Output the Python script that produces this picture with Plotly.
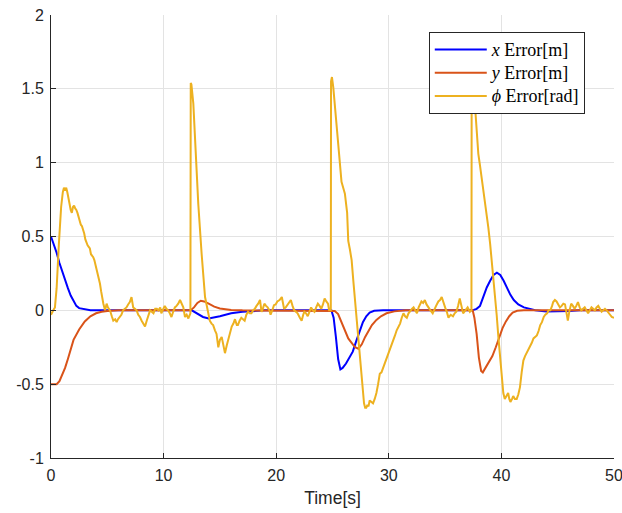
import plotly.graph_objects as go

# ---------------- data ----------------
x_t = [0, 0.25, 0.5, 0.75, 1.0, 1.25, 1.5, 1.75, 2.0, 2.25, 2.5, 3.0, 3.5, 12.5,
       13.0, 13.5, 14.0, 14.5, 15.0, 15.5, 16.0, 17.0, 18.0, 19.0, 24.9,
       25.1, 25.3, 25.5, 25.7, 25.9, 26.2, 26.5, 26.8, 27.1, 27.4, 27.7, 28.0,
       28.3, 28.7, 29.5, 37.4, 37.8, 38.1, 38.4, 38.7, 39.0, 39.3, 39.6, 39.9,
       40.2, 40.5, 40.8, 41.1, 41.5, 42.0, 42.5, 43.0, 44.0, 45.0, 46.0, 47.0, 50.0]
x_err = [0.5, 0.45, 0.39, 0.32, 0.26, 0.21, 0.15, 0.10, 0.06, 0.03, 0.015, 0.005, 0.0, 0.0,
         -0.02, -0.045, -0.055, -0.05, -0.04, -0.03, -0.02, -0.01, -0.003, 0.0, 0.0,
         -0.05, -0.18, -0.33, -0.40, -0.39, -0.36, -0.32, -0.28, -0.21, -0.14, -0.08, -0.04,
         -0.015, -0.003, 0.0, 0.0, 0.01, 0.03, 0.09, 0.155, 0.2, 0.24, 0.255, 0.24,
         0.2, 0.15, 0.105, 0.07, 0.04, 0.02, 0.008, 0.0, -0.008, -0.008, -0.004, 0.0, 0.0]

y_t = [0, 0.5, 0.75, 1.0, 1.25, 1.5, 1.75, 2.0, 2.5, 3.0, 3.5, 4.0, 4.5, 5.0, 6.0, 12.4,
       12.7, 13.0, 13.3, 13.6, 14.0, 14.5, 15.0, 16.0, 17.0, 24.9, 25.2, 25.5, 25.8,
       26.1, 26.4, 26.7, 27.0, 27.3, 27.6, 27.9, 28.2, 28.5, 28.9, 29.3, 29.8, 30.5,
       31.5, 37.45, 37.6, 37.8, 38.0, 38.2, 38.35, 38.6, 38.9, 39.2, 39.5, 39.8, 40.1,
       40.4, 40.7, 41.0, 41.4, 42.0, 50.0]
y_err = [-0.5, -0.5, -0.48, -0.44, -0.39, -0.33, -0.26, -0.2, -0.13, -0.075, -0.04, -0.02, -0.01, -0.004, 0.0, 0.0,
         0.02, 0.05, 0.065, 0.06, 0.045, 0.025, 0.012, 0.003, 0.0, 0.0, -0.005, -0.025, -0.08,
         -0.14, -0.19, -0.22, -0.25, -0.26, -0.23, -0.18, -0.14, -0.1, -0.065, -0.04, -0.02, -0.007,
         0.0, 0.0, -0.05, -0.16, -0.32, -0.41, -0.42, -0.39, -0.35, -0.31, -0.25, -0.18, -0.12,
         -0.075, -0.04, -0.015, -0.003, 0.0, 0.0]

phi_t = [0.0, 0.1, 0.2, 0.35, 0.5, 0.7, 0.9, 1.05, 1.15, 1.25, 1.35, 1.45, 1.55, 1.65, 1.75,
         1.85, 1.95, 2.05, 2.15, 2.25, 2.35, 2.45, 2.55, 2.65, 2.75, 2.85, 2.95, 3.05, 3.15,
         3.25, 3.35, 3.45, 3.55, 3.65, 3.75, 3.85, 3.95, 4.05, 4.15, 4.25, 4.35, 4.45, 4.55,
         4.65, 4.8, 4.94, 5.05, 5.24, 5.4, 5.53, 5.7, 5.83, 5.95, 6.1, 6.25, 6.4, 6.55, 6.7,
         6.85, 7.0, 7.15, 7.3, 7.45, 7.6, 7.75, 7.9, 8.05, 8.2, 8.35, 8.5, 8.65, 8.8, 8.95,
         9.1, 9.25, 9.4, 9.55, 9.7, 9.8, 9.95, 10.1, 10.25, 10.4, 10.55, 10.7, 10.85, 11.0,
         11.15, 11.3, 11.46, 11.6, 11.75, 11.9, 12.05, 12.2, 12.3, 12.38, 12.41, 12.47, 12.64,
         12.94, 13.08, 13.38, 13.68, 13.97, 14.1, 14.26, 14.4, 14.56, 14.7, 14.86, 15.0, 15.16,
         15.3, 15.45, 15.6, 15.75, 15.9, 16.05, 16.2, 16.34, 16.5, 16.6, 16.75, 16.9, 17.05,
         17.2, 17.35, 17.5, 17.65, 17.8, 17.95, 18.1, 18.25, 18.4, 18.56, 18.7, 18.85, 18.95,
         19.1, 19.24, 19.4, 19.5, 19.65, 19.8, 19.95, 20.1, 20.3, 20.5, 20.6, 20.7, 20.85,
         21.0, 21.15, 21.3, 21.45, 21.6, 21.75, 21.9, 22.1, 22.26, 22.4, 22.5, 22.65, 22.8,
         22.95, 23.1, 23.25, 23.4, 23.55, 23.7, 23.85, 24.0, 24.15, 24.3, 24.45, 24.6, 24.7,
         24.85, 24.87, 24.95, 25.07, 25.22, 25.37, 25.52, 25.67, 25.8, 25.95, 26.1, 26.3,
         26.4, 26.55, 26.7, 26.85, 27.0, 27.15, 27.3, 27.45, 27.6, 27.7, 27.8, 27.9, 28.0,
         28.1, 28.2, 28.3, 28.45, 28.6, 28.75, 28.9, 29.05, 29.2, 29.35, 29.5, 29.65, 29.8,
         29.95, 30.1, 30.25, 30.4, 30.55, 30.7, 30.85, 31.0, 31.15, 31.3, 31.45, 31.6, 31.75,
         31.9, 32.05, 32.2, 32.35, 32.5, 32.65, 32.8, 32.9, 33.05, 33.2, 33.35, 33.5, 33.7,
         33.9, 34.05, 34.2, 34.4, 34.55, 34.7, 34.85, 35.0, 35.15, 35.3, 35.5, 35.7, 35.85,
         36.0, 36.15, 36.3, 36.45, 36.6, 36.8, 37.0, 37.2, 37.34, 37.36, 37.45, 37.66, 37.8,
         37.95, 38.1, 38.25, 38.4, 38.54, 38.7, 38.84, 39.0, 39.14, 39.3, 39.43, 39.58, 39.73,
         39.88, 40.02, 40.17, 40.3, 40.45, 40.6, 40.7, 40.8, 40.95, 41.05, 41.2, 41.36, 41.5,
         41.65, 41.8, 41.95, 42.1, 42.25, 42.4, 42.55, 42.7, 42.85, 43.0, 43.15, 43.3, 43.45,
         43.6, 43.76, 43.9, 44.06, 44.2, 44.35, 44.5, 44.6, 44.75, 44.9, 45.05, 45.2, 45.35,
         45.5, 45.65, 45.8, 45.9, 46.05, 46.2, 46.35, 46.5, 46.65, 46.8, 46.95, 47.1, 47.25,
         47.4, 47.55, 47.7, 47.85, 48.0, 48.15, 48.3, 48.45, 48.6, 48.75, 48.9, 49.05, 49.2,
         49.35, 49.5, 49.65, 49.8, 50.0]
phi_err = [-0.03, -0.01, 0.0, 0.02, 0.15, 0.45, 0.7, 0.80, 0.83, 0.82, 0.83, 0.80, 0.77, 0.72, 0.68,
           0.66, 0.70, 0.71, 0.69, 0.68, 0.66, 0.63, 0.60, 0.58, 0.57, 0.55, 0.52, 0.48, 0.45,
           0.44, 0.43, 0.42, 0.38, 0.37, 0.36, 0.34, 0.31, 0.29, 0.26, 0.23, 0.18, 0.13, 0.08,
           0.045, 0.0, 0.045, 0.02, 0.0, -0.04, -0.07, -0.06, -0.08, -0.06, -0.045, -0.03, 0.0, 0.01, 0.02,
           0.04, 0.056, 0.09, 0.02, 0.01, 0.0, -0.03, -0.045, -0.07, -0.09, -0.11, -0.07, -0.03, 0.0, -0.01,
           -0.02, 0.01, 0.01, 0.0, 0.02, -0.02, 0.01, 0.03, 0.01, 0.0, -0.02, -0.045, -0.01, 0.02,
           0.03, 0.045, 0.07, 0.05, 0.02, -0.045, -0.03, -0.055, -0.04, -0.02, 1.54, 1.53, 1.40,
           0.95, 0.72, 0.38, 0.09, -0.02, -0.07, -0.09, -0.1, -0.135, -0.16, -0.25, -0.2, -0.18,
           -0.24, -0.29, -0.24, -0.2, -0.16, -0.11, -0.09, -0.06, -0.1, -0.1, -0.07, -0.05, -0.06,
           -0.07, -0.03, -0.01, -0.02, -0.02, 0.0, 0.01, 0.03, 0.045, 0.07, -0.01, 0.02, 0.045,
           0.03, 0.02, 0.0, -0.03, 0.0, 0.035, 0.04, 0.06, 0.07, 0.09, 0.05, 0.01, 0.02,
           0.035, 0.05, 0.07, 0.03, 0.0, -0.01, -0.02, -0.05, -0.07, -0.03, -0.01, -0.02, -0.04,
           -0.01, 0.02, 0.0, -0.01, 0.02, 0.045, 0.03, 0.01, 0.04, 0.08, 0.06, 0.045, 0.0,
           0.0, 1.55, 1.58, 1.51, 1.38, 1.24, 1.12, 1.02, 0.87, 0.83, 0.79, 0.66,
           0.47, 0.41, 0.34, 0.2, 0.07, -0.08, -0.23, -0.35, -0.45, -0.55, -0.63, -0.66, -0.66,
           -0.64, -0.65, -0.61, -0.62, -0.63, -0.6, -0.56, -0.5, -0.43, -0.42, -0.39, -0.36, -0.32,
           -0.3, -0.27, -0.23, -0.2, -0.17, -0.135, -0.11, -0.09, -0.05, -0.02, -0.04, -0.05, -0.02,
           0.0, 0.01, 0.02, 0.0, -0.02, 0.02, 0.045, 0.06, 0.05, 0.07, 0.04, 0.02, 0.0,
           -0.02, 0.0, 0.03, 0.06, 0.07, 0.09, 0.05, 0.02, -0.01, -0.05, -0.03, -0.04, -0.02,
           -0.01, 0.03, 0.08, 0.03, -0.02, 0.0, 0.02, -0.01, 0.0, 1.58, 1.55, 1.38, 1.2,
           1.06, 0.98, 0.9, 0.83, 0.745, 0.65, 0.56, 0.45, 0.34, 0.22, 0.11, -0.03, -0.18,
           -0.33, -0.47, -0.56, -0.6, -0.58, -0.56, -0.6, -0.62, -0.6, -0.58, -0.6, -0.6, -0.57,
           -0.52, -0.42, -0.34, -0.31, -0.29, -0.26, -0.24, -0.22, -0.19, -0.18, -0.17, -0.14, -0.1,
           -0.08, -0.045, -0.03, -0.02, 0.0, 0.0, 0.03, 0.056, 0.07, 0.06, 0.04, 0.02, 0.03,
           0.045, 0.04, -0.02, -0.07, 0.0, 0.045, 0.03, 0.01, 0.03, 0.056, 0.02, 0.0, 0.01,
           0.02, 0.0, -0.02, 0.0, 0.02, 0.01, 0.0, 0.02, 0.03, 0.01, -0.01, 0.0, 0.01,
           0.0, -0.02, -0.03, -0.045, -0.05]

x_ticks = [0, 10, 20, 30, 40, 50]
x_tick_labels = ["0", "10", "20", "30", "40", "50"]
y_ticks = [-1, -0.5, 0, 0.5, 1, 1.5, 2]
y_tick_labels = ["-1", "-0.5", "0", "0.5", "1", "1.5", "2"]

series_names = ["<i>x</i> Error[m]", "<i>y</i> Error[m]", "<i>ϕ</i> Error[rad]"]
colors = ["#0000FF", "#D95319", "#EDB120"]

# ---------------- figure ----------------
fig = go.Figure()
for tt, vv, name, col in [(x_t, x_err, series_names[0], colors[0]),
                          (y_t, y_err, series_names[1], colors[1]),
                          (phi_t, phi_err, series_names[2], colors[2])]:
    fig.add_trace(go.Scatter(x=tt, y=vv, mode="lines",
                             name='<span style="font-size:18px">' + name + "</span>",
                             line=dict(color=col, width=2)))

axis_common = dict(
    showgrid=True, gridcolor="#E3E3E3", gridwidth=1,
    zeroline=False, showline=True, linecolor="#262626", linewidth=1,
    ticks="inside", ticklen=5, tickcolor="#262626", tickwidth=1,
    tickfont=dict(family="Liberation Sans, Arial, sans-serif", size=16, color="#262626"),
    mirror=False, automargin=False, ticklabeloverflow="allow",
)

fig.update_layout(
    width=622, height=513,
    margin=dict(l=51, r=8, t=15, b=55),
    paper_bgcolor="white", plot_bgcolor="white",
    xaxis=dict(range=[0, 50], tickvals=x_ticks, ticktext=x_tick_labels,
               title=dict(text="Time[s]", standoff=8,
                          font=dict(family="Liberation Sans, Arial, sans-serif", size=17.5, color="#262626")),
               ticklabelstandoff=3, **axis_common),
    yaxis=dict(range=[-1, 2], tickvals=y_ticks, ticktext=y_tick_labels,
               ticklabelstandoff=3, **axis_common),
    legend=dict(x=0.671, y=0.9616, xanchor="left", yanchor="top",
                bgcolor="white", bordercolor="#262626", borderwidth=1,
                font=dict(family="Liberation Serif, Times New Roman, serif", size=15.5, color="black"),
                itemwidth=52, tracegroupgap=0),
    showlegend=True,
)

fig.write_html("out.html")
